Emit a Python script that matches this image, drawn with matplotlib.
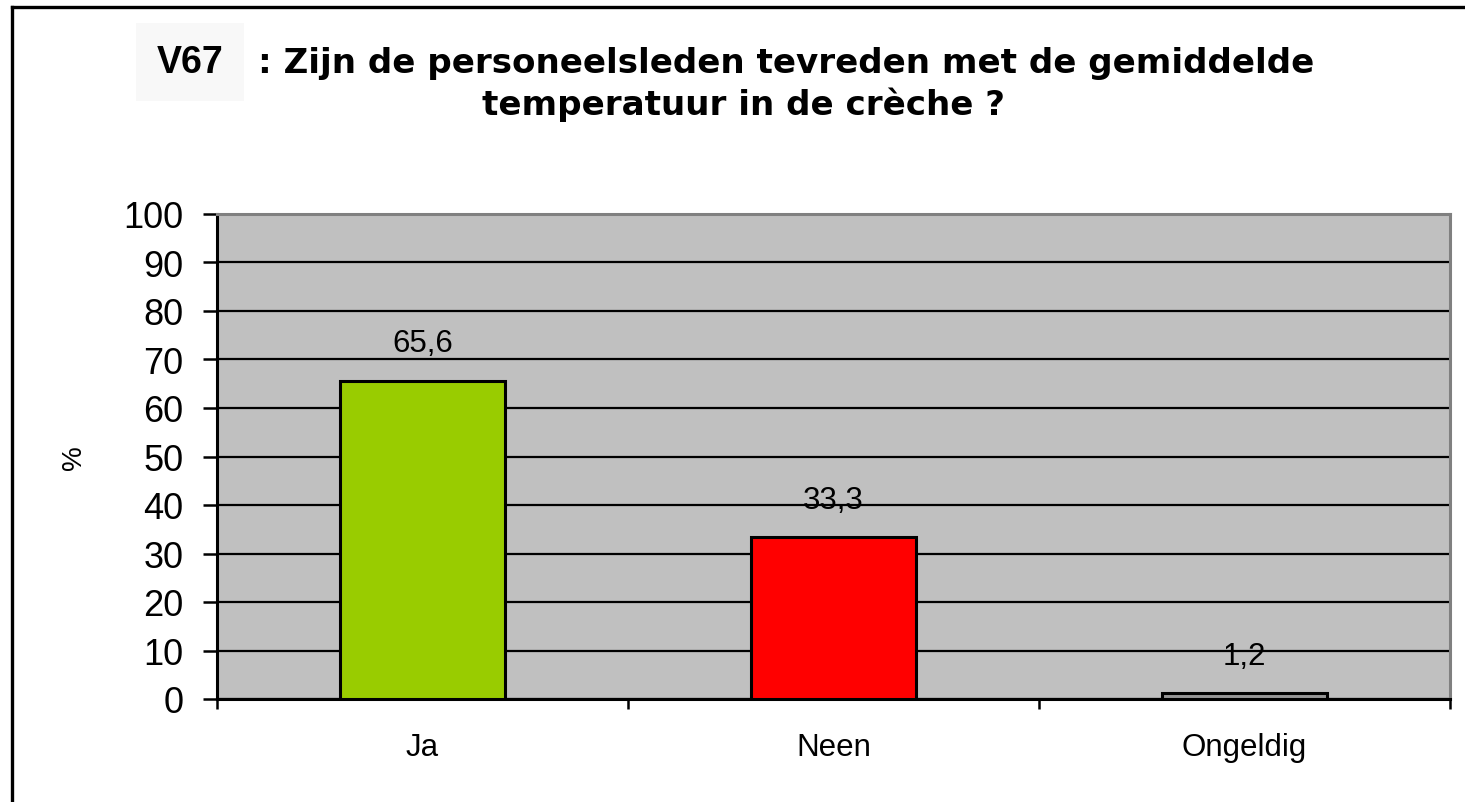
import matplotlib.pyplot as plt
from matplotlib.lines import Line2D

categorieen = ['Ja', 'Neen', 'Ongeldig']
percentages = [65.6, 33.3, 1.2]
labels_waarden = ['65,6', '33,3', '1,2']
kleuren = ['#99cc00', '#ff0000', '#969696']
y_ticks = list(range(0, 101, 10))

W, H = 1465, 803


def fx(px):
    return px / W


def fy(py):
    return 1 - py / H


plt.rcParams['font.family'] = ['Liberation Sans', 'DejaVu Sans']

fig = plt.figure(figsize=(W / 100, H / 100), dpi=100)
fig.patch.set_facecolor('white')

# rand rond de grafiek
fig.add_artist(Line2D([fx(12), 1], [fy(8), fy(8)], color='black', lw=2.4))
fig.add_artist(Line2D([fx(12), fx(12)], [fy(8), 0], color='black', lw=2.4))

ax = fig.add_axes([fx(217), fy(700), fx(1450) - fx(217), fy(215) - fy(700)])
ax.set_facecolor('#c0c0c0')

x = list(range(len(categorieen)))
ax.bar(x, percentages, width=0.4, color=kleuren, edgecolor='black', linewidth=2.2, zorder=3)

for xi, v, lab in zip(x, percentages, labels_waarden):
    ax.annotate(lab, (xi, v), xytext=(0, 27), textcoords='offset points',
                ha='center', va='center', fontsize=22.5, zorder=4)

ax.set_xlim(-0.5, 2.5)
ax.set_ylim(0, 100)
ax.set_yticks(y_ticks)
ax.set_yticklabels([str(t) for t in y_ticks], fontsize=26)
ax.yaxis.grid(True, color='black', lw=1.6, zorder=1)
ax.set_axisbelow(True)
ax.tick_params(axis='y', direction='out', length=10, width=1.8, pad=14)

# categorie-grenzen als ticks, labels in het midden
ax.set_xticks([-0.5, 0.5, 1.5, 2.5])
ax.set_xticklabels([])
ax.set_xticks(x, minor=True)
ax.set_xticklabels(categorieen, minor=True, fontsize=22.5)
ax.tick_params(axis='x', which='major', direction='out', length=7, width=1.8)
ax.tick_params(axis='x', which='minor', length=0, pad=24)

for s in ['left', 'bottom']:
    ax.spines[s].set_color('black')
    ax.spines[s].set_linewidth(2.2)
for s in ['top', 'right']:
    ax.spines[s].set_color('#808080')
    ax.spines[s].set_linewidth(2.2)

ax.set_ylabel('%', fontsize=20, labelpad=26)

# titel
fig.text(fx(157), fy(63), 'V67', fontsize=27, fontweight='bold', ha='left', va='center',
         bbox=dict(boxstyle='square,pad=0.55', facecolor='#f8f8f8', edgecolor='none'))
fig.text(fx(258), fy(63), ': Zijn de personeelsleden tevreden met de gemiddelde',
         fontsize=24.6, fontweight='bold', family=['DejaVu Sans'], ha='left', va='center')
fig.text(fx(743), fy(105), 'temperatuur in de crèche ?',
         fontsize=24.6, fontweight='bold', family=['DejaVu Sans'], ha='center', va='center')

fig.savefig('out.png', dpi=100)
